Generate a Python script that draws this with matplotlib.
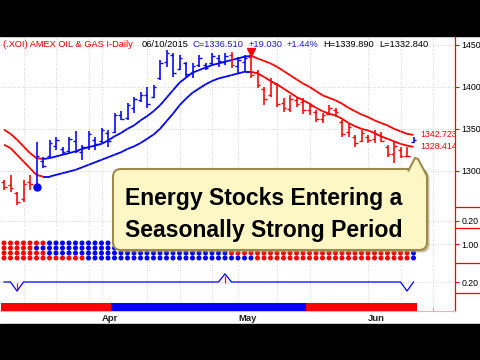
import matplotlib
matplotlib.use("Agg")
import matplotlib.pyplot as plt
import matplotlib.transforms as mtransforms
from matplotlib.patches import FancyBboxPatch, Polygon, Rectangle
from matplotlib.collections import LineCollection

plt.rcParams['font.family'] = ['Liberation Sans', 'DejaVu Sans']

# ---------------- data ----------------
dates = (["2015-03-%02d" % d for d in [11, 12, 13, 16, 17, 18, 19, 20, 23, 24, 25, 26, 27, 30, 31]] +
         ["2015-04-%02d" % d for d in [1, 2, 6, 7, 8, 9, 10, 13, 14, 15, 16, 17, 20, 21, 22, 23, 24, 27, 28, 29, 30]] +
         ["2015-05-%02d" % d for d in [1, 4, 5, 6, 7, 8, 11, 12, 13, 14, 15, 18, 19, 20, 21, 22, 26, 27, 28, 29]] +
         ["2015-06-%02d" % d for d in [1, 2, 3, 4, 5, 8, 9, 10]])

highs = [1289, 1295, 1275, 1289, 1295, 1334, 1316, 1337, 1340, 1328, 1340, 1347, 1331, 1347, 1340, 1351,
         1349, 1369, 1371, 1381, 1388, 1394, 1400, 1402, 1432, 1444, 1440, 1438, 1430, 1428, 1438, 1428,
         1440, 1438, 1440, 1442, 1436, 1438, 1438, 1420, 1400, 1411, 1405, 1387, 1390, 1388, 1387, 1381,
         1372, 1369, 1378, 1375, 1360, 1357, 1343, 1349, 1343, 1349, 1346, 1331, 1334, 1328, 1328, 1339.89]
lows = [1277, 1275, 1259, 1263, 1277, 1281, 1303, 1315, 1325, 1319, 1322, 1321, 1313, 1325, 1325, 1333,
        1328, 1345, 1360, 1360, 1369, 1382, 1375, 1387, 1408, 1424, 1412, 1420, 1412, 1411, 1424, 1420,
        1426, 1424, 1426, 1423, 1417, 1418, 1411, 1399, 1378, 1388, 1376, 1370, 1370, 1376, 1368, 1366,
        1358, 1357, 1366, 1364, 1340, 1340, 1328, 1334, 1333, 1333, 1334, 1316, 1309, 1315, 1316, 1332.84]
opens = [1286, 1283, 1273, 1266, 1287, 1283, 1311, 1318, 1330, 1326, 1324, 1336, 1322, 1328, 1337, 1335,
         1345, 1346, 1366, 1363, 1375, 1384, 1390, 1388, 1410, 1430, 1438, 1421, 1428, 1416, 1426, 1426,
         1428, 1434, 1430, 1438, 1425, 1430, 1436, 1418, 1398, 1390, 1404, 1381, 1374, 1384, 1382, 1372,
         1370, 1362, 1368, 1373, 1358, 1346, 1340, 1336, 1340, 1338, 1342, 1328, 1320, 1325, 1318, 1334]
closes = [1281, 1279, 1263, 1284, 1284, 1318, 1306, 1333, 1337, 1322, 1338, 1324, 1328, 1344, 1332, 1348,
          1336, 1366, 1362, 1378, 1386, 1390, 1380, 1400, 1428, 1440, 1416, 1434, 1415, 1425, 1435, 1423,
          1437, 1431, 1437, 1426, 1432, 1434, 1414, 1402, 1385, 1406, 1380, 1375, 1386, 1380, 1372, 1377,
          1362, 1366, 1375, 1370, 1344, 1352, 1333, 1345, 1337, 1344, 1336, 1320, 1330, 1318, 1317.48, 1336.51]
bar_trend = "R" * 5 + "B" * 30 + "R" + "B" * 2 + "R" * 25 + "B"

upper_band = [1349, 1344, 1337, 1329, 1321, 1315, 1314, 1315, 1317, 1319, 1321, 1323, 1326, 1328, 1330, 1332,
              1336, 1341, 1345, 1350, 1354, 1360, 1365, 1371, 1378, 1387, 1396, 1405, 1411, 1417, 1420, 1423,
              1426, 1428, 1430, 1432, 1434, 1436, 1437, 1434, 1431, 1428, 1424, 1419, 1414, 1409, 1404, 1400,
              1395, 1390, 1387, 1384, 1380, 1375, 1371, 1367, 1364, 1360, 1357, 1354, 1350, 1347, 1344, 1342.723]
lower_band = [1331, 1327, 1319, 1311, 1303, 1295, 1293, 1293, 1295, 1297, 1299, 1301, 1304, 1307, 1310, 1313,
              1316, 1319, 1322, 1326, 1329, 1333, 1338, 1343, 1350, 1359, 1368, 1378, 1386, 1393, 1398, 1403,
              1407, 1410, 1412, 1414, 1416, 1418, 1418, 1416, 1412, 1407, 1403, 1398, 1393, 1388, 1384, 1380,
              1375, 1371, 1368, 1366, 1362, 1357, 1353, 1350, 1348, 1345, 1341, 1338, 1335, 1332, 1330, 1328.414]
band_trend = "R" * 6 + "B" * 32 + "R" * 26

swing_low_bar = 5
swing_high_bar = 38

# dot matrix rows (top to bottom)
dot_rows = ["R" * 7 + "B" * 28 + "R" * 29,
            "R" * 5 + "B" * 30 + "R" * 29,
            "R" * 7 + "B" * 28 + "R" * 28 + "B",
            "R" * 13 + "B" * 26 + "R" * 24 + "B"]

osc = [0, 0, -1, 0, 0, 0, 0, 0, 0, 0, 0, 0, 0, 0, 0, 0,
       0, 0, 0, 0, 0, 0, 0, 0, 0, 0, 0, 0, 0, 0, 0, 0,
       0, 0, 0.9, 0, 0, 0, 0, 0, 0, 0, 0, 0, 0, 0, 0, 0,
       0, 0, 0, 0, 0, 0, 0, 0, 0, 0, 0, 0, 0, 0, -1, 0]
osc_signal_bars = [2, 34]

season = "R" * 17 + "B" * 30 + "R" * 17

month_names = ["Apr", "May", "Jun"]
week_grid = [3, 8, 13, 22, 27, 32, 42, 47, 61, 66]

price_ticks = [1300, 1350, 1400, 1450]

header = [("(.XOI) AMEX OIL & GAS I-Daily", '#E00000'), ("06/10/2015", 'black'),
          ("C=1336.510", '#2020E0'), ("+19.030", '#2020E0'), ("+1.44%", '#2020E0'),
          ("H=1339.890", 'black'), ("L=1332.840", 'black')]
header_x = [3, 142, 192.5, 249, 287, 323, 379]

callout_lines = ["Energy Stocks Entering a", "Seasonally Strong Period"]

# ---------------- layout ----------------
W, H = 480, 360
fig = plt.figure(figsize=(W / 100, H / 100), dpi=100)

def frame(x0, y0, x1, y1):
    return [x0 / W, 1 - y1 / H, (x1 - x0) / W, (y1 - y0) / H]

PX, X0 = 6.5, 4.0
XL = (-X0 / PX, (455 - X0) / PX)
RED, BLUE = '#FF0000', '#0000FF'
CM = {'R': RED, 'B': BLUE}
GRID = dict(color='#C4C4C4', lw=0.6, ls=(0, (1, 2)), zorder=0)

n = len(dates)
xs = list(range(n))
month_idx = [i for i in range(1, n) if dates[i][5:7] != dates[i - 1][5:7]]
grid_idx = sorted(week_grid + month_idx)


def style(ax, ylim, yticks, ylabels):
    ax.set_xlim(*XL)
    ax.set_ylim(*ylim)
    for s in ['left', 'top', 'bottom']:
        ax.spines[s].set_visible(False)
    ax.spines['right'].set_color(RED)
    ax.spines['right'].set_linewidth(0.9)
    ax.yaxis.tick_right()
    ax.set_yticks(yticks)
    ax.set_yticklabels(ylabels)
    ax.tick_params(axis='y', colors=RED, labelcolor='black', length=3, width=0.8,
                   pad=1.5, labelsize=6.3)
    ax.tick_params(axis='x', bottom=False, labelbottom=False)
    for g in grid_idx:
        ax.axvline(g, **GRID)
    for t in yticks:
        ax.axhline(t, **GRID)


# main price panel
ax = fig.add_axes(frame(0, 36, 455, 207))
style(ax, (1256.7, 1460.7), price_ticks, [str(t) for t in price_ticks])
cols = [CM[c] for c in bar_trend]
ax.vlines(xs, lows, highs, colors=cols, lw=1.15, zorder=3)
ax.hlines(opens, [x - 0.42 for x in xs], xs, colors=cols, lw=1.0, zorder=3)
ax.hlines(closes, xs, [x + 0.42 for x in xs], colors=cols, lw=1.0, zorder=3)
for band in (upper_band, lower_band):
    segs = [[(i, band[i]), (i + 1, band[i + 1])] for i in range(n - 1)]
    lc = LineCollection(segs, colors=[CM[band_trend[i]] for i in range(n - 1)], lw=1.3, zorder=2)
    ax.add_collection(lc)
ax.plot(swing_low_bar, lows[swing_low_bar], 'o', color=BLUE, ms=5, zorder=4)
ax.plot(swing_high_bar, highs[swing_high_bar] + 4, 'v', color=RED, ms=6, zorder=4)
for val in (upper_band[-1], lower_band[-1]):
    ax.text(n, val, "%.3f" % val, color=RED, fontsize=6.3, ha='left', va='center', clip_on=True)

# panel 2 (empty)
ax2 = fig.add_axes(frame(0, 207, 455, 228))
style(ax2, (0, 1), [7 / 21], ['0.20'])

# panel 3 dots
ax3 = fig.add_axes(frame(0, 228, 455, 263))
style(ax3, (0, 7), [3.8], ['1.00'])
for r, row in enumerate(dot_rows):
    ax3.scatter(xs, [4 - r] * n, c=[CM[c] for c in row], s=13, marker='o', linewidths=0, zorder=3)

# panel 4 oscillator line
ax4 = fig.add_axes(frame(0, 263, 455, 293))
style(ax4, (-11 / 9, 19 / 9), [0], ['0.20'])
ax4.plot(xs, osc, color=BLUE, lw=0.9, zorder=3)
for b in osc_signal_bars:
    ax4.vlines(b, -0.1, osc[b] * 0.75, colors=RED, lw=0.9, zorder=3)

# panel 5 seasonal bar
ax5 = fig.add_axes(frame(0, 293, 455, 311))
style(ax5, (0, 1), [], [])
ax5.bar(xs, [8 / 18] * n, width=1.0, color=[CM[c] for c in season], linewidth=0, zorder=3)
ax5.spines['bottom'].set_visible(True)
ax5.spines['bottom'].set_color('#F2B0B0')
ax5.spines['bottom'].set_linewidth(0.8)
ax5.set_xticks(grid_idx)
ax5.tick_params(axis='x', bottom=True, direction='in', length=3, color='#E89090', width=0.7,
                labelbottom=False)
tr = mtransforms.blended_transform_factory(ax5.transData, ax5.transAxes)
for i, name in zip(month_idx, month_names):
    ax5.text(i, -0.39, name, transform=tr, ha='left', va='center', fontsize=6.8,
             fontweight='bold', color='#202020')

# ---------------- overlay ----------------
ov = fig.add_axes([0, 0, 1, 1], zorder=10)
ov.set_xlim(0, W)
ov.set_ylim(H, 0)
ov.axis('off')
ov.patch.set_alpha(0)
ov.add_patch(Rectangle((0, 0), W, 36, color='black', zorder=1))
ov.add_patch(Rectangle((0, 324), W, 36, color='black', zorder=1))
for yy in (207, 228, 263, 293):
    ov.plot([455, 480], [yy, yy], color=RED, lw=0.9, zorder=2)

for (txt, c), hx in zip(header, header_x):
    ov.text(hx, 47.3, txt, color=c, fontsize=6.7, ha='left', va='baseline', zorder=3)

# callout
ov.add_patch(FancyBboxPatch((115.5, 171.5), 314, 81, boxstyle='round,pad=0,rounding_size=8',
                            fc='#A89868', ec='none', alpha=0.6, zorder=4))
ov.add_patch(FancyBboxPatch((113, 169), 314, 81, boxstyle='round,pad=0,rounding_size=8',
                            fc='#FDF7C6', ec='#9C8B4A', lw=1.5, zorder=5))
ov.add_patch(Polygon([(408, 171.5), (415, 158), (418, 159), (427, 176)], closed=False,
                     fc='#FDF7C6', ec='#9C8B4A', lw=1.5, zorder=6))
ov.text(263.5, 205, callout_lines[0], fontsize=16.6, fontweight='bold', ha='center',
        va='baseline', color='black', zorder=7)
ov.text(263.5, 236.5, callout_lines[1], fontsize=16.6, fontweight='bold', ha='center',
        va='baseline', color='black', zorder=7)

fig.savefig("out.png", dpi=100)
